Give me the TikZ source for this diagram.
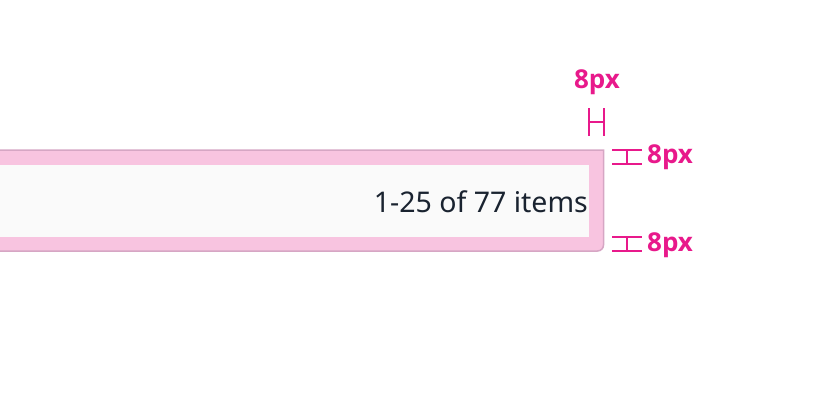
\documentclass[tikz,border=0pt]{standalone}
\usepackage{fontspec}
\setmainfont{Noto Sans}
\newfontfamily\guidefont{Open Sans}
\usepackage{xcolor}
\usepackage{tikz}
\usetikzlibrary{calc}
\definecolor{guide}{HTML}{E8198B}
\definecolor{band}{HTML}{F8C4E0}
\definecolor{bandline}{HTML}{D6A6C4}
\definecolor{inner}{HTML}{FAFAFA}
\definecolor{ink}{HTML}{1A2330}
\tikzstyle{label}=[text=guide, font=\guidefont\bfseries\fontsize{26}{26}\selectfont, inner sep=0pt]
\tikzstyle{caption}=[text=ink, font=\fontsize{28.5}{28.5}\selectfont, inner sep=0pt]
\tikzstyle{guide edge}=[-, draw=guide, line width=2pt]
\pgfdeclarelayer{nodelayer}
\pgfdeclarelayer{edgelayer}
\pgfsetlayers{edgelayer,nodelayer}

\begin{document}
\begin{tikzpicture}[x=1pt, y=-1pt]
        	\useasboundingbox (0, 0) rectangle (826, 400);
        	\clip (0, 0) rectangle (826, 400);
        	\begin{pgfonlayer}{edgelayer}
        		\filldraw [fill=band, draw=bandline, line width=1.5pt] (-10, 150) -- (603.5, 150) {[rounded corners=6pt] -- (603.5, 251) -- (-10, 251)} -- cycle;
        		\fill [inner] (-10, 165) rectangle (589, 237);
        	\end{pgfonlayer}
        	\begin{pgfonlayer}{nodelayer}
        		\node [style=caption, anchor=east] (0) at (588, 202) {1-25 of 77 items};
        		\node [style=label] (1) at (597, 82) {8px};
        		\node [style=label, anchor=west] (2) at (647, 157) {8px};
        		\node [style=label, anchor=west] (3) at (647, 245) {8px};
        		\coordinate (4) at (589, 108);
        		\coordinate (5) at (589, 136);
        		\coordinate (6) at (604, 108);
        		\coordinate (7) at (604, 136);
        		\coordinate (8) at (612, 150);
        		\coordinate (9) at (642, 150);
        		\coordinate (10) at (612, 164);
        		\coordinate (11) at (642, 164);
        		\coordinate (12) at (612, 237);
        		\coordinate (13) at (642, 237);
        		\coordinate (14) at (612, 251);
        		\coordinate (15) at (642, 251);
        	\end{pgfonlayer}
        	\begin{pgfonlayer}{edgelayer}
        		\draw [style=guide edge] (4) to (5);
        		\draw [style=guide edge] (6) to (7);
        		\draw [style=guide edge] ($(4)!0.5!(5)$) to ($(6)!0.5!(7)$);
        		\draw [style=guide edge] (8) to (9);
        		\draw [style=guide edge] (10) to (11);
        		\draw [style=guide edge] ($(8)!0.5!(9)$) to ($(10)!0.5!(11)$);
        		\draw [style=guide edge] (12) to (13);
        		\draw [style=guide edge] (14) to (15);
        		\draw [style=guide edge] ($(12)!0.5!(13)$) to ($(14)!0.5!(15)$);
        	\end{pgfonlayer}
\end{tikzpicture}
\end{document}
